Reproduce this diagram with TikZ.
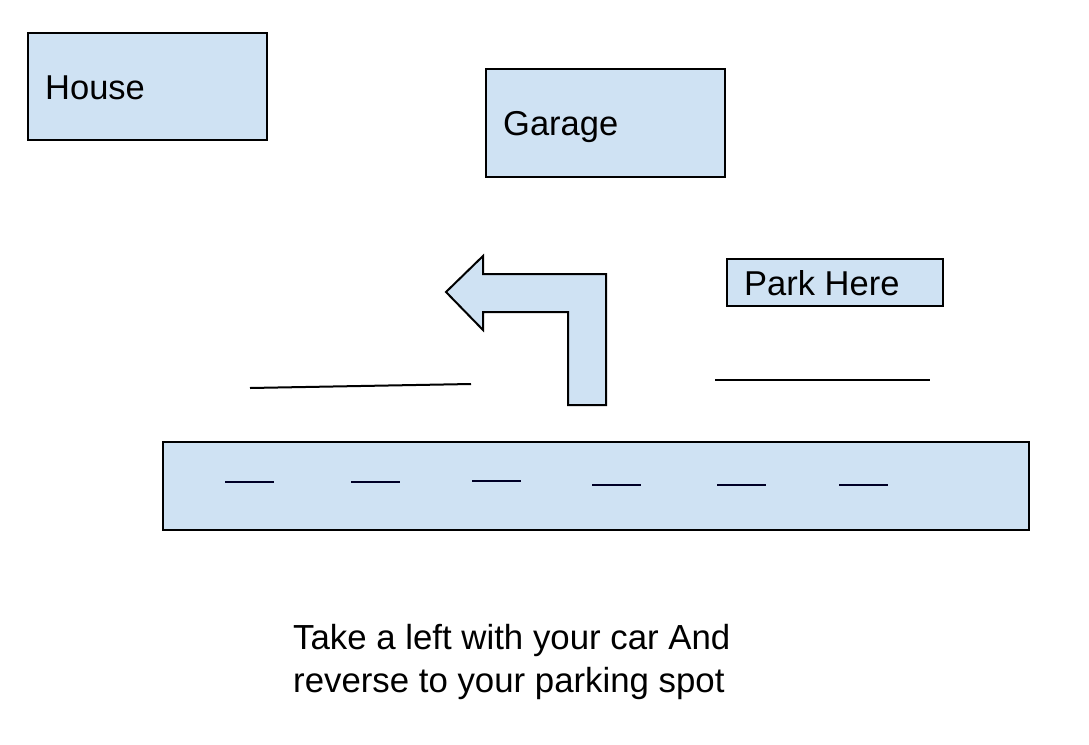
\documentclass[tikz,border=0pt]{standalone}
\usepackage{fontspec}
\setmainfont{Liberation Sans}
\definecolor{boxblue}{HTML}{CFE2F3}
\begin{document}
\begin{tikzpicture}[x=1pt,y=-1pt,
  box/.style={draw=black,fill=boxblue,line width=2pt,inner sep=0pt,anchor=north west},
  lbl/.style={anchor=base west,inner sep=0pt,font=\fontsize{34.5}{43}\selectfont},
  curbline/.style={draw=black,line width=2pt},
  lanedash/.style={draw=black!85!blue,line width=2.6pt}]
\useasboundingbox (0,0) rectangle (1089,744);
\node[box,minimum width=239pt,minimum height=107pt] (house) at (27,32) {};
\node[lbl] (houselbl) at (45,99) {House};
\node[box,minimum width=239pt,minimum height=108pt] (garage) at (485,68) {};
\node[lbl] (garagelbl) at (503,135) {Garage};
\node[box,minimum width=216pt,minimum height=47pt] (park) at (726,258) {};
\node[lbl] (parklbl) at (744,295) {Park Here};
\node[box,minimum width=866pt,minimum height=88pt] (road) at (162,441) {};
% turn arrow
\draw[line width=2pt,fill=boxblue,line join=miter]
  (446,292) -- (483,256) -- (483,274) -- (606,274) -- (606,405) -- (568,405)
  -- (568,312) -- (483,312) -- (483,330) -- cycle;
% curb lines
\coordinate (l1) at (250,388); \coordinate (l2) at (471,384);
\coordinate (r1) at (715,380); \coordinate (r2) at (930,380);
\draw[curbline] (l1) -- (l2);
\draw[curbline] (r1) -- (r2);
% lane dashes
\foreach \a/\b/\y [count=\i] in {225/274/482,351/400/482,472/521/481,592/641/485,717/766/485,839/888/485}{
  \coordinate (d\i a) at (\a,\y); \coordinate (d\i b) at (\b,\y);
  \draw[lanedash] (d\i a) -- (d\i b);
}
\node[anchor=north west,inner sep=0pt,align=left,font=\fontsize{34.8}{43}\selectfont] (note) at (293,624)
  {Take a left with your car And\\reverse to your parking spot};
\end{tikzpicture}
\end{document}
